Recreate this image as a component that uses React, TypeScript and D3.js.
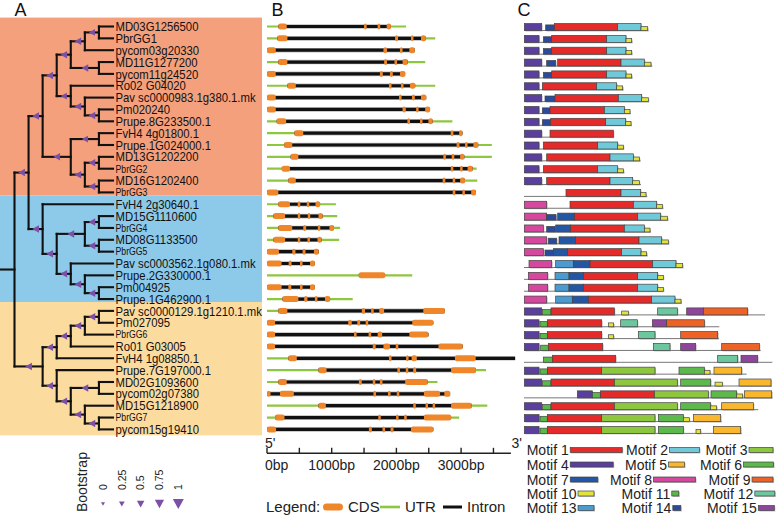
import React, { useEffect, useRef } from "react";
import * as d3 from "d3";

// ---------------- DATA ----------------
const NEWICK =
  "(" +
  "(" +
  "(" +
  "(" +
  "(((MD03G1256500,PbrGG1)0.4,pycom03g20330)0.5,(MD11G1277200,pycom11g24520)0.5)0.5," +
  "(Ro02 G04020,(Pav sc0000983.1g380.1.mk,(Pm020240,Prupe.8G233500.1)0.5)0.5)0.4" +
  ")0.5," +
  "((FvH4 4g01800.1,Prupe.1G024000.1)0.4,((MD13G1202200,PbrGG2)0.5,(MD16G1202400,PbrGG3)0.5)0.5)0.5" +
  ")0.5," +
  "(FvH4 2g30640.1,(((MD15G1110600,PbrGG4)0.5,(MD08G1133500,PbrGG5)0.5)0.5,(Pav sc0003562.1g080.1.mk,(Prupe.2G330000.1,(Pm004925,Prupe.1G462900.1)0.5)0.5)0.5)0.5)0.5" +
  ")0.5," +
  "(" +
  "((((Pav sc0000129.1g1210.1.mk,Pm027095)0.5,PbrGG6)0.5,Ro01 G03005)0.5,FvH4 1g08850.1)0.5," +
  "(Prupe.7G197000.1,((MD02G1093600,pycom02g07380)0.5,(MD15G1218900,(PbrGG7,pycom15g19410)0.5)0.5)0.5)0.5" +
  ")0.5" +
  ")";

const SMALL_LABELS = ["PbrGG2", "PbrGG3", "PbrGG4", "PbrGG5", "PbrGG6", "PbrGG7"];

// subfamily ranges (row indices, inclusive)
const GROUP_RANGES: [number, number][] = [[0, 14], [15, 23], [24, 34]];

const BOOTSTRAP_TICKS = [0, 0.25, 0.5, 0.75, 1];
const BP_TICKS = [0, 500, 1000, 1500, 2000, 2500, 3000, 3500];
const BP_LABELS = [0, 1000, 2000, 3000];

// gene structure (bp), rows in tree order
const GENE_LENGTH = [
  2150, 2600, 2285, 2445, 2135, 2600, 2460, 2520, 2865, 3020, 3475, 3475, 3240, 3250, 3230,
  1065, 1085, 1130, 1115, 800, 740, 2245, 740, 1325,
  2750, 2570, 2495, 3025, 3835, 3385, 2635, 2830, 3405, 2970, 2570,
];
const CDS_EXONS: [number, number][][] = [
  [[175, 305], [1500, 1540], [1710, 1750], [1850, 1915]],
  [[160, 315], [1980, 2025], [2225, 2260], [2380, 2455]],
  [[0, 135], [1800, 1855], [2055, 2095], [2200, 2285]],
  [[175, 315], [1810, 1855], [1970, 2010], [2095, 2175]],
  [[0, 135], [1745, 1790], [1900, 1945], [2055, 2135]],
  [[315, 445], [1885, 1925], [2070, 2110], [2210, 2290]],
  [[0, 135], [2040, 2080], [2240, 2285], [2380, 2460]],
  [[0, 135], [2095, 2145], [2305, 2340], [2445, 2520]],
  [[150, 295], [2170, 2210], [2365, 2400], [2495, 2560]],
  [[425, 560], [2840, 2880], [2970, 3020]],
  [[265, 390], [2930, 2975], [3060, 3100], [3190, 3265]],
  [[365, 485], [2725, 2765], [2855, 2895], [2985, 3050]],
  [[230, 355], [2840, 2880], [2985, 3015], [3100, 3180]],
  [[330, 445], [2715, 2755], [2870, 2900], [2985, 3060]],
  [[0, 175], [2870, 2910], [3020, 3055], [3155, 3230]],
  [[175, 355], [475, 510], [615, 650], [750, 820]],
  [[100, 280], [475, 510], [630, 665], [795, 860]],
  [[175, 390], [560, 605], [785, 820], [965, 1035]],
  [[100, 280], [475, 510], [625, 655], [780, 845]],
  [[0, 185], [390, 440], [550, 595], [725, 800]],
  [[0, 225], [335, 380], [510, 550], [665, 740]],
  [[1420, 1825]],
  [[0, 225], [330, 375], [510, 550], [665, 740]],
  [[240, 485], [575, 625], [740, 780], [895, 975]],
  [[175, 315], [1465, 1515], [1610, 1645], [1735, 1810], [2415, 2750]],
  [[0, 125], [1255, 1310], [1395, 1440], [1525, 1565], [2245, 2570]],
  [[0, 125], [1345, 1385], [1570, 1610], [1710, 1780], [2200, 2495]],
  [[0, 125], [1635, 1680], [1800, 1900], [1990, 2030], [2650, 3025]],
  [[330, 460], [1885, 1925], [2150, 2185], [2235, 2315], [2905, 3225]],
  [[795, 920], [2015, 2055], [2145, 2180], [2260, 2305], [2845, 3230]],
  [[175, 305], [1420, 1465], [1635, 1670], [1745, 1785], [2135, 2485]],
  [[0, 55], [200, 415], [1645, 1685], [1870, 1910], [2005, 2045], [2425, 2675], [2740, 2830]],
  [[795, 910], [2260, 2300], [2450, 2485], [2560, 2595], [2845, 3165]],
  [[125, 270], [1720, 1755], [1995, 2030], [2120, 2160], [2425, 2845]],
  [[0, 140], [1575, 1620], [1785, 1825], [1910, 1955], [2225, 2570]],
];
// genes whose intron runs on past the last CDS (row -> end bp)
const OPEN_INTRON_END: Record<number, number> = { 28: 3835 };

// conserved motifs (aa), rows in tree order
const PROTEIN_LENGTH = [
  373, 325, 325, 385, 325, 298, 375, 320, 323, 270, 300, 350, 301, 351, 370,
  418, 433, 380, 435, 370, 476, 418, 418, 473,
  723, 586, 585, 710, 745, 668, 743, 745, 703, 593, 653,
];
const MOTIF_HITS: [number, number, number][][] = [
  [[4, 1, 53], [14, 65, 91], [1, 91, 281], [2, 281, 351], [10, 351, 371]],
  [[4, 1, 45], [14, 58, 83], [1, 83, 248], [2, 248, 306], [10, 306, 323]],
  [[4, 1, 45], [14, 58, 83], [1, 83, 248], [2, 248, 306], [10, 306, 323]],
  [[4, 1, 53], [14, 68, 95], [1, 101, 291], [2, 291, 361], [10, 361, 381]],
  [[4, 1, 45], [14, 58, 83], [1, 83, 248], [2, 248, 306], [10, 306, 323]],
  [[4, 1, 45], [1, 55, 218], [2, 218, 278], [10, 278, 296]],
  [[4, 1, 53], [14, 63, 93], [1, 93, 283], [2, 283, 353], [10, 353, 373]],
  [[4, 1, 45], [14, 55, 78], [1, 78, 241], [2, 241, 301], [10, 301, 318]],
  [[4, 1, 45], [14, 55, 80], [1, 80, 245], [2, 245, 305], [10, 305, 321]],
  [[4, 1, 53], [1, 78, 268]],
  [[4, 1, 45], [1, 58, 221], [2, 221, 281], [10, 281, 298]],
  [[4, 1, 53], [1, 68, 258], [2, 258, 328], [10, 328, 346]],
  [[4, 1, 45], [1, 58, 221], [2, 221, 281], [10, 281, 298]],
  [[4, 1, 53], [1, 68, 258], [2, 258, 326], [10, 326, 346]],
  [[1, 126, 291], [2, 291, 350], [10, 350, 366]],
  [[8, 1, 68], [1, 138, 328], [2, 328, 398], [10, 398, 415]],
  [[8, 1, 68], [14, 68, 96], [7, 101, 151], [1, 151, 341], [2, 341, 410], [10, 410, 430]],
  [[8, 1, 58], [14, 68, 93], [7, 95, 140], [1, 140, 301], [2, 301, 361], [10, 361, 378]],
  [[8, 1, 68], [14, 73, 98], [7, 105, 155], [1, 155, 345], [2, 345, 413], [10, 413, 433]],
  [[8, 1, 58], [14, 63, 88], [7, 88, 131], [1, 131, 293], [2, 293, 351], [10, 351, 368]],
  [[8, 15, 83], [13, 95, 148], [7, 148, 198], [1, 198, 386], [2, 386, 456], [10, 456, 476]],
  [[8, 13, 71], [13, 93, 135], [7, 135, 178], [1, 178, 341], [2, 341, 401], [10, 401, 418]],
  [[8, 13, 71], [13, 93, 135], [7, 135, 178], [1, 178, 341], [2, 341, 401], [10, 401, 418]],
  [[8, 1, 68], [13, 95, 145], [7, 145, 193], [1, 193, 383], [2, 383, 453], [10, 453, 471]],
  [[4, 1, 53], [11, 55, 81], [1, 81, 271], [10, 293, 313], [12, 401, 460], [15, 488, 538], [9, 538, 671]],
  [[4, 1, 45], [11, 48, 70], [1, 70, 233], [10, 253, 269], [12, 290, 340], [15, 385, 428], [9, 428, 541]],
  [[4, 1, 45], [11, 48, 70], [1, 70, 233], [10, 253, 269], [12, 343, 393], [9, 470, 581]],
  [[4, 1, 45], [11, 50, 73], [1, 73, 236], [12, 388, 438], [15, 470, 515], [9, 593, 706]],
  [[11, 58, 85], [1, 85, 275], [12, 581, 641], [15, 651, 701]],
  [[4, 1, 45], [11, 48, 70], [1, 70, 233], [3, 233, 393], [6, 465, 541], [10, 541, 558], [5, 570, 653]],
  [[4, 1, 53], [11, 55, 81], [1, 81, 271], [3, 271, 460], [6, 470, 560], [10, 573, 595], [5, 645, 741]],
  [[4, 160, 205], [11, 205, 229], [1, 229, 391], [3, 391, 553], [6, 561, 638], [10, 638, 656], [5, 661, 743]],
  [[4, 1, 53], [11, 55, 81], [1, 81, 271], [3, 271, 460], [6, 470, 560], [10, 560, 578], [5, 593, 688]],
  [[4, 1, 45], [11, 48, 70], [1, 70, 233], [3, 233, 393], [6, 403, 478], [10, 478, 496], [5, 508, 590]],
  [[4, 1, 45], [11, 48, 70], [1, 70, 233], [3, 233, 393], [6, 403, 478], [10, 516, 530], [5, 568, 650]],
];
const MOTIF_IDS = [1, 2, 3, 4, 5, 6, 7, 8, 9, 10, 11, 12, 13, 14, 15];

// ---------------- STYLE ----------------
const GROUP_COLORS = ["#F4A07C", "#8DC9E8", "#FCDB9F"];
const MOTIF_COLORS: Record<number, string> = {
  1: "#E52A2A", 2: "#6FC9D9", 3: "#8DC63F", 4: "#5A3F9C", 5: "#F9B72D",
  6: "#5DB94B", 7: "#2357A6", 8: "#D6479E", 9: "#EE6325", 10: "#E3E43B",
  11: "#57B947", 12: "#6CC79F", 13: "#4B9BD3", 14: "#2A4A9E", 15: "#8E459C",
};
const MOTIF_HEIGHT: Record<number, number> = { 10: 0.55, 11: 0.75, 14: 0.8 };
const SANS = "'Liberation Sans', Arial, Helvetica, sans-serif";
const PURPLE = "#7B50A6";

type TNode = { name: string; support: number | null; children?: TNode[] };

function parseNewick(s: string): TNode {
  let i = 0;
  function node(): TNode {
    const n: TNode = { name: "", support: null };
    if (s[i] === "(") {
      i++;
      n.children = [node()];
      while (s[i] === ",") {
        i++;
        n.children.push(node());
      }
      i++;
    }
    let lab = "";
    while (i < s.length && !",();".includes(s[i])) lab += s[i++];
    if (n.children) n.support = lab ? +lab : null;
    else n.name = lab;
    return n;
  }
  return node();
}

export default function App() {
  const ref = useRef<SVGSVGElement>(null);

  useEffect(() => {
    const svg = d3.select(ref.current!);
    svg.selectAll("*").remove();

    const nRows = GENE_LENGTH.length;
    const yRow = d3.scaleLinear().domain([0, nRows - 1]).range([26.5, 429.4]);

    // ---------- Panel A: tree ----------
    const gA = svg.append("g");
    GROUP_RANGES.forEach(([a, b], k) => {
      const top = yRow(a - 0.5) - 3;
      const bot = k === GROUP_RANGES.length - 1 ? yRow(b + 0.5) : yRow(b + 0.5) - 3;
      gA.append("rect").attr("x", 0).attr("y", top).attr("width", 262).attr("height", bot - top)
        .attr("fill", GROUP_COLORS[k]);
    });

    const root = d3.hierarchy<TNode>(parseNewick(NEWICK), (d) => d.children);
    const leaves = root.leaves();
    const xTree = d3.scaleLinear().domain([root.height, 0]).range([14.5, 113]);
    const pos = new Map<any, { x: number; y: number }>();
    root.eachAfter((n) => {
      const y = n.children
        ? (d3.mean(n.children, (c) => pos.get(c)!.y) as number)
        : yRow(leaves.indexOf(n));
      pos.set(n, { x: xTree(n.height), y });
    });

    const lines = gA.append("g").attr("stroke", "#111").attr("stroke-width", 2.1).attr("stroke-linecap", "square");
    const rp = pos.get(root)!;
    lines.append("line").attr("x1", 0).attr("x2", rp.x).attr("y1", rp.y).attr("y2", rp.y);
    root.descendants().forEach((n) => {
      const p = pos.get(n)!;
      if (n.parent) {
        const pp = pos.get(n.parent)!;
        lines.append("line").attr("x1", pp.x).attr("x2", p.x).attr("y1", p.y).attr("y2", p.y);
      }
      if (n.children) {
        const y1 = pos.get(n.children[0])!.y;
        const y2 = pos.get(n.children[n.children.length - 1])!.y;
        lines.append("line").attr("x1", p.x).attr("x2", p.x).attr("y1", y1).attr("y2", y2);
      }
    });

    const triSize = (v: number) => 4 + 7 * v;
    root.descendants().forEach((n) => {
      if (!n.parent || n.data.support == null) return;
      const p = pos.get(n)!;
      const pp = pos.get(n.parent)!;
      const cx = (p.x + pp.x) / 2;
      const s = triSize(n.data.support);
      gA.append("path")
        .attr("d", `M${cx - s * 0.45},${p.y}L${cx + s * 0.45},${p.y - s / 2}L${cx + s * 0.45},${p.y + s / 2}Z`)
        .attr("fill", PURPLE);
    });

    leaves.forEach((l, i) => {
      const small = SMALL_LABELS.includes(l.data.name);
      gA.append("text")
        .attr("transform", `translate(115.5,${yRow(i) + (small ? 3.8 : 4.6)}) scale(0.87,1)`)
        .attr("font-family", SANS).attr("font-size", small ? 10 : 13).attr("fill", "#111")
        .text(l.data.name);
    });

    // bootstrap legend
    const gL = svg.append("g").attr("font-family", SANS).attr("fill", "#222");
    gL.append("text").attr("transform", "translate(86.5,512) rotate(-90)").attr("font-size", 14).text("Bootstrap");
    const xLeg = d3.scalePoint<number>().domain(BOOTSTRAP_TICKS).range([103, 178.3]);
    BOOTSTRAP_TICKS.forEach((v) => {
      const x = xLeg(v)!;
      gL.append("text").attr("transform", `translate(${x + 3.8},490) rotate(-90)`).attr("font-size", 10.5).text(String(v));
      const s = triSize(v);
      const cy = 504;
      gL.append("path")
        .attr("d", `M${x - s / 2},${cy - s * 0.45}L${x + s / 2},${cy - s * 0.45}L${x},${cy + s * 0.45}Z`)
        .attr("fill", PURPLE);
    });

    // ---------- Panel B: gene structure ----------
    const xBp = d3.scaleLinear().domain([0, 3800]).range([267, 267 + 3800 * 0.0647]);
    const gB = svg.append("g");
    GENE_LENGTH.forEach((len, i) => {
      const y = yRow(i);
      const ex = CDS_EXONS[i];
      gB.append("line").attr("x1", xBp(0)).attr("x2", xBp(len)).attr("y1", y).attr("y2", y)
        .attr("stroke", "#8DC63F").attr("stroke-width", 2.2);
      const s0 = ex[0][0];
      const s1 = OPEN_INTRON_END[i] ?? ex[ex.length - 1][1];
      gB.append("line").attr("x1", xBp(s0)).attr("x2", xBp(s1)).attr("y1", y).attr("y2", y)
        .attr("stroke", "#bbb").attr("stroke-width", 4.6);
      gB.append("line").attr("x1", xBp(s0)).attr("x2", xBp(s1)).attr("y1", y).attr("y2", y)
        .attr("stroke", "#111").attr("stroke-width", 3.2);
      ex.forEach(([a, b]) => {
        gB.append("rect").attr("x", xBp(a)).attr("y", y - 3).attr("width", Math.max(2.5, xBp(b) - xBp(a)))
          .attr("height", 6).attr("rx", 2).attr("fill", "#F0862A");
      });
    });

    // axis
    const axY = 453.3;
    const gAx = svg.append("g").attr("font-family", SANS).attr("fill", "#222");
    gAx.append("line").attr("x1", xBp(0)).attr("x2", xBp(3770)).attr("y1", axY).attr("y2", axY)
      .attr("stroke", "#222").attr("stroke-width", 1.6);
    BP_TICKS.forEach((t) => {
      gAx.append("line").attr("x1", xBp(t)).attr("x2", xBp(t)).attr("y1", axY - 5.5).attr("y2", axY)
        .attr("stroke", "#222").attr("stroke-width", 1.4);
    });
    BP_LABELS.forEach((t) => {
      gAx.append("text").attr("x", t === 0 ? xBp(t) - 2 : xBp(t)).attr("y", 470)
        .attr("text-anchor", t === 0 ? "start" : "middle").attr("font-size", 14).text(`${t}bp`);
    });
    gAx.append("text").attr("x", 265).attr("y", 448).attr("font-size", 14).text("5'");
    gAx.append("text").attr("x", 511.5).attr("y", 448).attr("font-size", 14).text("3'");

    // gene legend
    const lg = svg.append("g").attr("font-family", SANS).attr("font-size", 15).attr("fill", "#222");
    const ly = 507;
    lg.append("text").attr("x", 266).attr("y", ly + 5.3).text("Legend:");
    lg.append("rect").attr("x", 323).attr("y", ly - 3.5).attr("width", 20).attr("height", 7).attr("rx", 3.5).attr("fill", "#F0862A");
    lg.append("text").attr("x", 348).attr("y", ly + 5.3).text("CDS");
    lg.append("line").attr("x1", 380).attr("x2", 400).attr("y1", ly).attr("y2", ly).attr("stroke", "#8DC63F").attr("stroke-width", 2.6);
    lg.append("text").attr("x", 405).attr("y", ly + 5.3).text("UTR");
    lg.append("line").attr("x1", 443).attr("x2", 462).attr("y1", ly).attr("y2", ly).attr("stroke", "#111").attr("stroke-width", 3);
    lg.append("text").attr("x", 467).attr("y", ly + 5.3).text("Intron");

    // ---------- Panel C: motifs ----------
    const xAa = d3.scaleLinear().domain([0, 750]).range([524, 774]);
    const gC = svg.append("g");
    const boxH = 7;
    PROTEIN_LENGTH.forEach((len, i) => {
      const base = yRow(i) + 4;
      gC.append("line").attr("x1", xAa(0)).attr("x2", xAa(len)).attr("y1", base).attr("y2", base)
        .attr("stroke", "#777").attr("stroke-width", 1);
      MOTIF_HITS[i].forEach(([m, a, b]) => {
        const h = boxH * (MOTIF_HEIGHT[m] ?? 1);
        const x = xAa(a);
        const w = xAa(b) - xAa(a);
        gC.append("rect").attr("x", x + 1).attr("y", base - h + 1).attr("width", w).attr("height", h)
          .attr("fill", "#9a9a9a").attr("opacity", 0.6);
        gC.append("rect").attr("x", x).attr("y", base - h).attr("width", w).attr("height", h)
          .attr("fill", MOTIF_COLORS[m]).attr("stroke", "#444").attr("stroke-width", 0.7);
      });
    });

    // motif legend
    const legTextX = [
      [526.7, 626, 705.5],
      [526.7, 625, 700],
      [526.7, 610, 708.5],
      [526.7, 621.5, 703.5],
      [526.7, 621.5, 707],
    ];
    const legSwW = [
      [52, 30, 24],
      [43, 16, 30],
      [27.6, 42, 21],
      [16, 7, 20],
      [16, 8, 16],
    ];
    const legY = [450, 464.5, 479.5, 493.5, 508];
    const gML = svg.append("g").attr("font-family", SANS).attr("font-size", 14).attr("fill", "#222");
    MOTIF_IDS.forEach((m, k) => {
      const r = Math.floor(k / 3);
      const c = k % 3;
      const t = gML.append("text").attr("x", legTextX[r][c]).attr("y", legY[r] + 5).text(`Motif ${m}`);
      const tw = (t.node() as SVGTextElement).getComputedTextLength();
      const sx = legTextX[r][c] + tw + 1.5;
      const w = legSwW[r][c];
      gML.append("rect").attr("x", sx + 1).attr("y", legY[r] - 1.5).attr("width", w).attr("height", 5)
        .attr("fill", "#9a9a9a").attr("opacity", 0.6);
      gML.append("rect").attr("x", sx).attr("y", legY[r] - 2.5).attr("width", w).attr("height", 5)
        .attr("fill", MOTIF_COLORS[m]).attr("stroke", "#444").attr("stroke-width", 0.7);
    });

    // panel labels
    const pl = svg.append("g").attr("font-family", SANS).attr("font-size", 18).attr("fill", "#111");
    pl.append("text").attr("x", 14.5).attr("y", 15.5).text("A");
    pl.append("text").attr("x", 271.5).attr("y", 15.5).text("B");
    pl.append("text").attr("x", 517.5).attr("y", 15.5).text("C");
  }, []);

  return (
    <div style={{ position: "absolute", left: 0, top: 0 }}>
      <svg ref={ref} width={777} height={515} style={{ display: "block", background: "#fff" }} />
    </div>
  );
}
